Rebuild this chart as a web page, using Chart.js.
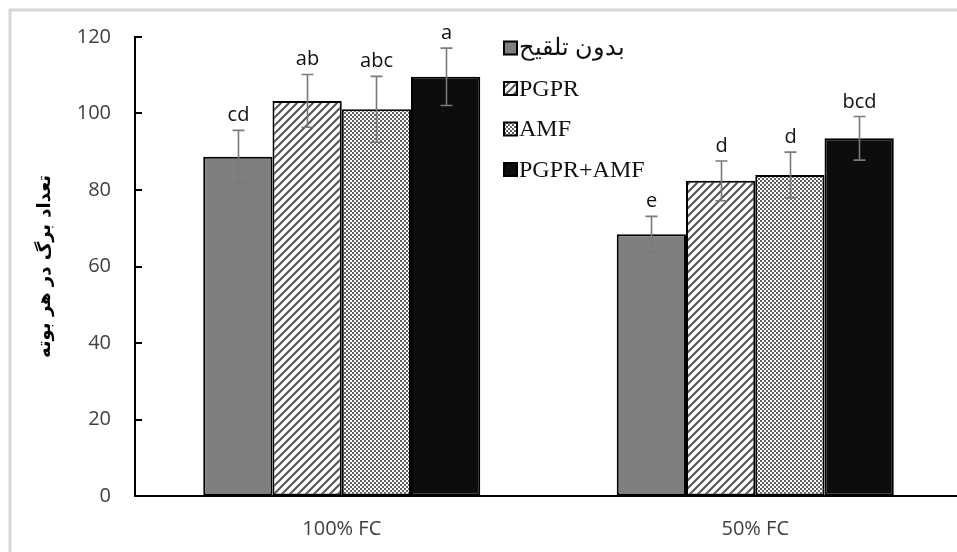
<!DOCTYPE html>
<html>
<head>
<meta charset="utf-8">
<script src="https://cdn.jsdelivr.net/npm/chart.js@4.4.1/dist/chart.umd.min.js"></script>
<style>
  html, body { margin: 0; padding: 0; background: #fff; overflow: hidden; width: 957px; height: 552px; }
  #wrap { position: relative; width: 957px; height: 552px; overflow: hidden; }
  canvas { display: block; }
</style>
</head>
<body>
<div id="wrap"><canvas id="c" width="975" height="552"></canvas></div>
<script>
// Leaf count per plant under two irrigation levels and four inoculation treatments
const categories = ['100% FC', '50% FC'];
const seriesNames = ['بدون تلقیح', 'PGPR', 'AMF', 'PGPR+AMF'];

const noInoculation = [88.7, 68.4];
const pgpr = [103.3, 82.4];
const amf = [101.1, 83.9];
const pgprAmf = [109.6, 93.5];

const errNoInoculation = [6.9, 4.7];
const errPgpr = [6.9, 5.2];
const errAmf = [8.6, 6.0];
const errPgprAmf = [7.5, 5.7];

const lettersNoInoculation = ['cd', 'e'];
const lettersPgpr = ['ab', 'd'];
const lettersAmf = ['abc', 'd'];
const lettersPgprAmf = ['a', 'bcd'];

const yTicks = [0, 20, 40, 60, 80, 100, 120];
const yTitle = 'تعداد برگ در هر بوته';

// Fill patterns
function makeStripes() {
  const s = 8;
  const c = document.createElement('canvas');
  c.width = s; c.height = s;
  const g = c.getContext('2d');
  g.fillStyle = '#fff';
  g.fillRect(0, 0, s, s);
  g.strokeStyle = '#555';
  g.lineWidth = 2;
  g.beginPath();
  g.moveTo(-1, s + 1); g.lineTo(s + 1, -1);
  g.moveTo(-s / 2 - 1, s / 2 + 1); g.lineTo(s / 2 + 1, -s / 2 - 1);
  g.moveTo(s / 2 - 1, s * 1.5 + 1); g.lineTo(s * 1.5 + 1, s / 2 - 1);
  g.stroke();
  return g.createPattern(c, 'repeat');
}
function makeChecks() {
  const c = document.createElement('canvas');
  c.width = 4; c.height = 4;
  const g = c.getContext('2d');
  g.fillStyle = '#fff';
  g.fillRect(0, 0, 4, 4);
  g.fillStyle = '#606060';
  g.fillRect(0, 0, 2, 2);
  g.fillRect(2, 2, 2, 2);
  return g.createPattern(c, 'repeat');
}
const fills = ['#7f7f7f', makeStripes(), makeChecks(), '#0d0d0d'];

const seriesValues = [noInoculation, pgpr, amf, pgprAmf];
const seriesErrors = [errNoInoculation, errPgpr, errAmf, errPgprAmf];
const seriesLetters = [lettersNoInoculation, lettersPgpr, lettersAmf, lettersPgprAmf];

const datasets = seriesNames.map((name, k) => ({
  label: name,
  data: seriesValues[k],
  errors: seriesErrors[k],
  letters: seriesLetters[k],
  backgroundColor: fills[k],
  borderColor: '#000',
  borderWidth: 2,
  borderSkipped: false,
  categoryPercentage: 0.67,
  barPercentage: 1.0
}));

// Light frame around the figure
const framePlugin = {
  id: 'frame',
  beforeDraw(chart) {
    const ctx = chart.ctx;
    ctx.save();
    ctx.fillStyle = '#fff';
    ctx.fillRect(0, 0, chart.width, chart.height);
    ctx.strokeStyle = '#d6d6d6';
    ctx.lineWidth = 3;
    ctx.beginPath();
    ctx.moveTo(10, chart.height + 5);
    ctx.lineTo(10, 10);
    ctx.lineTo(chart.width + 5, 10);
    ctx.stroke();
    ctx.restore();
  }
};

// Inward tick marks on the value axis
const innerTicksPlugin = {
  id: 'innerTicks',
  afterDraw(chart) {
    const y = chart.scales.y;
    const left = chart.chartArea.left;
    const ctx = chart.ctx;
    ctx.save();
    ctx.strokeStyle = '#000';
    ctx.lineWidth = 2;
    y.ticks.forEach(t => {
      const py = Math.round(y.getPixelForValue(t.value));
      ctx.beginPath();
      ctx.moveTo(left - 1, py);
      ctx.lineTo(left + 7, py);
      ctx.stroke();
    });
    ctx.restore();
  }
};

// Standard error bars and mean-separation letters
const errorPlugin = {
  id: 'errorBars',
  afterDatasetsDraw(chart) {
    const ctx = chart.ctx;
    const y = chart.scales.y;
    ctx.save();
    chart.data.datasets.forEach((ds, di) => {
      const meta = chart.getDatasetMeta(di);
      meta.data.forEach((bar, i) => {
        const v = ds.data[i], e = ds.errors[i];
        const x = Math.round(bar.x) + 0.5;
        const yTop = y.getPixelForValue(v + e);
        const yBot = y.getPixelForValue(v - e);
        ctx.strokeStyle = '#7a7a7a';
        ctx.lineWidth = 1.6;
        ctx.beginPath();
        ctx.moveTo(x, yTop); ctx.lineTo(x, yBot);
        ctx.moveTo(x - 6, yTop); ctx.lineTo(x + 6, yTop);
        ctx.moveTo(x - 6, yBot); ctx.lineTo(x + 6, yBot);
        ctx.stroke();
        ctx.fillStyle = '#111';
        ctx.font = '20px "Open Sans", sans-serif';
        ctx.textAlign = 'center';
        ctx.textBaseline = 'alphabetic';
        ctx.fillText(ds.letters[i], x, yTop - 9);
      });
    });
    ctx.restore();
  }
};

// Legend drawn inside the plot area
const legendPlugin = {
  id: 'innerLegend',
  afterDraw(chart) {
    const ctx = chart.ctx;
    ctx.save();
    const bx = 504, size = 13;
    chart.data.datasets.forEach((ds, k) => {
      const cy = 48 + k * 40.5;
      ctx.fillStyle = ds.backgroundColor;
      ctx.fillRect(bx, cy - size / 2, size, size);
      ctx.strokeStyle = '#000';
      ctx.lineWidth = 2;
      ctx.strokeRect(bx, cy - size / 2, size, size);
      ctx.fillStyle = '#111';
      ctx.textAlign = 'left';
      ctx.textBaseline = 'middle';
      ctx.font = '24px "Liberation Serif", "DejaVu Serif", serif';
      ctx.fillText(ds.label, bx + size + 2, cy + 1);
    });
    ctx.restore();
  }
};

new Chart(document.getElementById('c'), {
  type: 'bar',
  data: { labels: categories, datasets },
  options: {
    responsive: false,
    animation: false,
    layout: { padding: { top: 37, right: 13, left: 0, bottom: 0 } },
    plugins: { legend: { display: false }, tooltip: { enabled: false } },
    scales: {
      x: {
        grid: { display: false, drawTicks: false },
        border: { display: true, color: '#000', width: 2 },
        ticks: {
          padding: 21,
          color: '#404040',
          font: { family: '"Open Sans", sans-serif', size: 20 }
        },
        afterFit(scale) { scale.height = 56; }
      },
      y: {
        min: 0,
        max: 120,
        afterBuildTicks(scale) { scale.ticks = yTicks.map(v => ({ value: v })); },
        grid: { display: true, drawOnChartArea: false, drawTicks: false, color: 'rgba(0,0,0,0)' },
        border: { display: true, color: '#000', width: 2 },
        ticks: {
          padding: 24,
          color: '#404040',
          font: { family: '"Open Sans", sans-serif', size: 20 }
        },
        title: {
          display: true,
          text: yTitle,
          color: '#000',
          padding: { top: 35, bottom: 0 },
          font: { family: '"DejaVu Sans", sans-serif', weight: 'bold', size: 18 }
        },
        afterFit(scale) { scale.width = 135; }
      }
    }
  },
  plugins: [framePlugin, innerTicksPlugin, errorPlugin, legendPlugin]
});
</script>
</body>
</html>
